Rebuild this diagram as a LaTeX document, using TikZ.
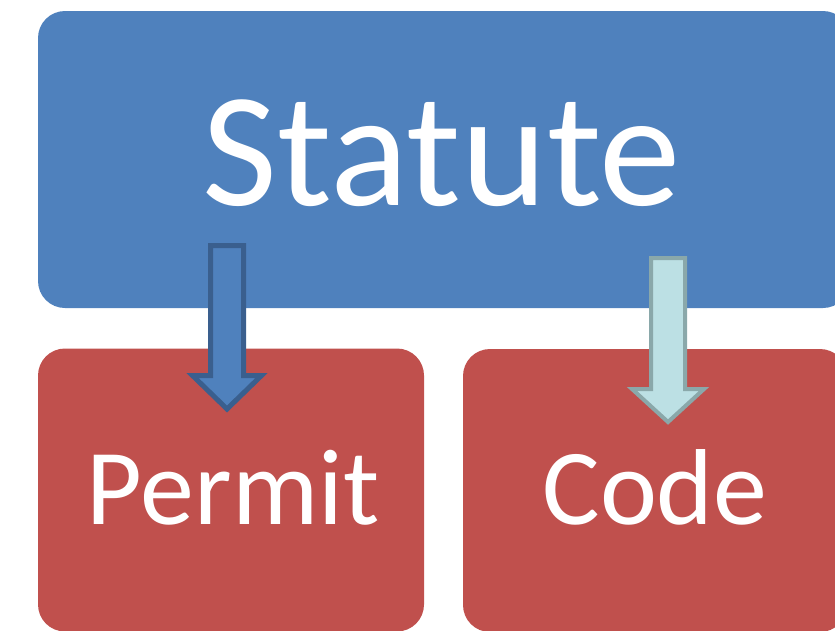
\documentclass[tikz,border=0pt]{standalone}
\usepackage{fontspec}
\setmainfont{Carlito}
\definecolor{boxblue}{HTML}{4F81BD}
\definecolor{boxred}{HTML}{C0504D}
\definecolor{arrowedge}{HTML}{3A5F8E}
\definecolor{lightfill}{HTML}{BCE0E4}
\definecolor{lightedge}{HTML}{8AA8AA}
\begin{document}
\begin{tikzpicture}[x=1pt,y=-1pt,
  panel/.style={rectangle, rounded corners=27pt, inner sep=0pt, draw=none},
  label/.style={text=white, anchor=base, inner sep=0pt},
  blockarrow/.style={line join=miter}]
\useasboundingbox (0,0) rectangle (835,630);
\clip (0,0) rectangle (835,630);
% boxes
\node[panel, fill=boxblue, minimum width=812pt, minimum height=297pt] (statute) at (444,159.5) {};
\node[panel, fill=boxred, minimum width=386pt, minimum height=283pt] (permit) at (231,490) {};
\node[panel, fill=boxred, minimum width=384pt, minimum height=283pt] (code) at (655,490.5) {};
% texts
\node[label, font=\fontsize{163}{163}\selectfont] (tstatute) at (442,205) {Statute};
\node[label, font=\fontsize{108}{108}\selectfont] (tpermit) at (233,524) {Permit};
\node[label, font=\fontsize{108}{108}\selectfont] (tcode) at (655,524) {Code};
% arrows
\coordinate (a1top) at (227,245.5);
\coordinate (a1tip) at (227,409);
\draw[blockarrow, fill=boxblue, draw=arrowedge, line width=5pt]
  (210.5,245.5) -- (243.5,245.5) -- (243.5,375.5) -- (261.5,375.5) -- (a1tip)
  -- (192.5,375.5) -- (210.5,375.5) -- cycle;
\coordinate (a2top) at (668,258);
\coordinate (a2tip) at (668,422);
\draw[blockarrow, fill=lightfill, draw=lightedge, line width=4pt]
  (651,258) -- (685,258) -- (685,389) -- (704,389) -- (a2tip)
  -- (632,389) -- (651,389) -- cycle;
\end{tikzpicture}
\end{document}
